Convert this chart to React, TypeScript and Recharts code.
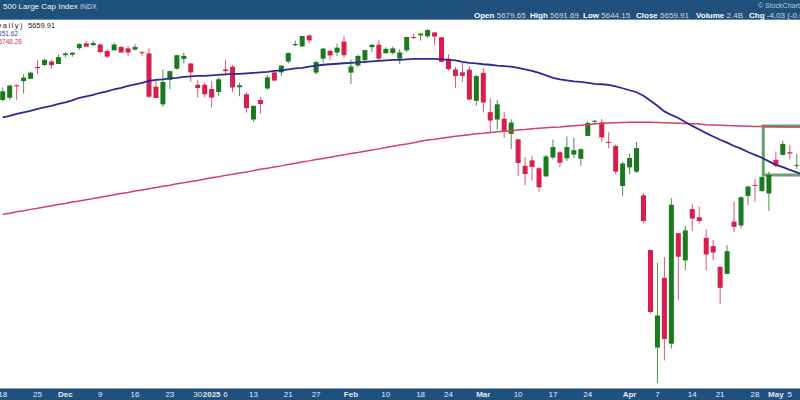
import React from 'react';
import { ComposedChart, Bar, Line, XAxis, YAxis, ReferenceArea } from 'recharts';

// Daily candles, 18 Nov 2024 -> 7 May 2025 (trading days)
const opens = [
  5859, 5868, 5918, 5935, 5944, 5992, 6000, 6014, 6004, 6040,
  6042, 6069, 6089, 6081, 6084, 6057, 6060, 6074, 6068, 6063,
  6052, 6047, 5912, 5842, 5940, 5985, 6025, 6006, 5920, 5920,
  5903, 5891, 5982, 5993, 5910, 5882, 5782, 5859, 5905, 5970,
  5970, 6014, 6081, 6076, 6121, 5969, 6026, 6058, 6051, 6096,
  5969, 5998, 6020, 6073, 6083, 6048, 6049, 6026, 6060, 6115,
  6122, 6118, 6134, 6114, 6026, 5982, 5970, 5981, 5856, 5968,
  5811, 5782, 5785, 5726, 5705, 5603, 5624, 5594, 5563, 5635,
  5655, 5632, 5646, 5630, 5718, 5775, 5771, 5695, 5679, 5527,
  5597, 5581, 5492, 5292, 4953, 5193, 4966, 5353, 5255, 5441,
  5411, 5336, 5306, 5232, 5207, 5395, 5381, 5490, 5531, 5508,
  5499, 5626, 5645, 5655, 5605, 5614,
];
const highs = [
  5909, 5920, 5921, 5963, 5973, 6020, 6026, 6021, 6044, 6053,
  6052, 6089, 6099, 6099, 6088, 6065, 6092, 6079, 6078, 6085,
  6057, 6070, 5935, 5982, 5978, 6040, 6050, 6007, 5940, 5929,
  5935, 5950, 6021, 6000, 5928, 5890, 5837, 5871, 5960, 5976,
  6000, 6051, 6100, 6119, 6128, 6018, 6070, 6062, 6087, 6121,
  6023, 6042, 6062, 6084, 6101, 6073, 6076, 6065, 6116, 6128,
  6129, 6147, 6134, 6115, 6044, 5992, 6009, 5994, 5959, 5987,
  5866, 5860, 5812, 5783, 5705, 5636, 5642, 5598, 5645, 5704,
  5659, 5716, 5711, 5670, 5775, 5781, 5784, 5732, 5685, 5620,
  5651, 5695, 5500, 5292, 5246, 5267, 5481, 5353, 5381, 5460,
  5450, 5367, 5328, 5232, 5309, 5469, 5489, 5528, 5553, 5563,
  5582, 5658, 5700, 5684, 5649, 5654,
];
const lows = [
  5853, 5858, 5860, 5885, 5944, 5963, 5995, 5984, 6004, 6031,
  6034, 6062, 6075, 6079, 6048, 6028, 6060, 6051, 6036, 6059,
  6035, 5867, 5866, 5832, 5903, 5981, 6007, 5932, 5869, 5869,
  5829, 5876, 5960, 5891, 5874, 5809, 5773, 5805, 5900, 5933,
  5955, 6007, 6076, 6075, 6088, 5962, 6010, 6019, 6036, 6030,
  5923, 5991, 6007, 6053, 6020, 6048, 6043, 6004, 6051, 6107,
  6100, 6111, 6080, 6009, 5977, 5908, 5932, 5858, 5837, 5810,
  5732, 5742, 5711, 5667, 5565, 5529, 5547, 5505, 5563, 5628,
  5598, 5622, 5633, 5603, 5718, 5763, 5695, 5670, 5572, 5489,
  5571, 5576, 5390, 5069, 4835, 4910, 4950, 5116, 5220, 5360,
  5387, 5220, 5255, 5101, 5207, 5356, 5371, 5456, 5468, 5505,
  5434, 5597, 5643, 5628, 5591, 5578,
];
const closes = [
  5894, 5917, 5917, 5949, 5969, 5987, 6021, 5999, 6032, 6047,
  6050, 6086, 6075, 6090, 6053, 6034, 6084, 6051, 6051, 6074,
  6050, 5872, 5867, 5931, 5975, 6040, 6037, 5970, 5907, 5882,
  5869, 5942, 5975, 5909, 5918, 5827, 5836, 5843, 5950, 5937,
  5997, 6049, 6086, 6119, 6101, 6012, 6067, 6039, 6071, 6040,
  5994, 6037, 6061, 6083, 6026, 6066, 6068, 6051, 6115, 6114,
  6129, 6144, 6117, 6013, 5983, 5955, 5956, 5861, 5955, 5849,
  5778, 5842, 5738, 5770, 5614, 5572, 5599, 5522, 5639, 5675,
  5615, 5675, 5663, 5667, 5768, 5777, 5712, 5693, 5581, 5612,
  5633, 5671, 5397, 5074, 5062, 4982, 5457, 5268, 5363, 5406,
  5397, 5276, 5283, 5158, 5288, 5376, 5485, 5525, 5529, 5561,
  5569, 5604, 5687, 5650, 5607, 5631,
];
const sma50 = [
  5790, 5796, 5804, 5810, 5816, 5824, 5830, 5836, 5844, 5850,
  5858, 5868, 5874, 5880, 5888, 5894, 5902, 5908, 5916, 5922,
  5928, 5936, 5940, 5942, 5946, 5948, 5952, 5954, 5956, 5956,
  5958, 5960, 5962, 5964, 5964, 5966, 5968, 5970, 5972, 5976,
  5978, 5982, 5986, 5988, 5993, 5997, 6001, 6003, 6005, 6007,
  6009, 6011, 6013, 6015, 6017, 6019, 6021, 6021, 6023, 6025,
  6025, 6025, 6025, 6023, 6021, 6019, 6013, 6009, 6007, 6003,
  6001, 5997, 5995, 5993, 5988, 5982, 5976, 5968, 5958, 5948,
  5942, 5938, 5934, 5932, 5928, 5924, 5922, 5920, 5914, 5906,
  5898, 5890, 5876, 5856, 5836, 5814, 5800, 5788, 5772, 5757,
  5743, 5729, 5716, 5703, 5692, 5679, 5669, 5656, 5645, 5634,
  5620, 5607, 5598, 5588, 5578, 5570,
];
const sma200 = [
  5422, 5426, 5431, 5435, 5440, 5444, 5449, 5453, 5458, 5462,
  5467, 5471, 5476, 5480, 5485, 5490, 5494, 5499, 5503, 5508,
  5512, 5517, 5521, 5526, 5530, 5535, 5539, 5544, 5548, 5553,
  5558, 5562, 5567, 5571, 5576, 5580, 5585, 5590, 5594, 5599,
  5603, 5608, 5613, 5618, 5622, 5627, 5631, 5636, 5641, 5645,
  5650, 5654, 5659, 5664, 5668, 5673, 5678, 5683, 5687, 5692,
  5697, 5702, 5705, 5709, 5713, 5717, 5720, 5723, 5726, 5728,
  5731, 5734, 5736, 5738, 5741, 5743, 5746, 5748, 5750, 5752,
  5753, 5756, 5758, 5760, 5762, 5765, 5766, 5768, 5769, 5770,
  5771, 5771, 5771, 5771, 5770, 5769, 5768, 5767, 5766, 5765,
  5764, 5762, 5761, 5760, 5759, 5758, 5757, 5756, 5755, 5755,
  5754, 5754, 5753, 5753, 5753, 5752,
];

// x-axis labels: trading-day index -> label
const tickIdx = [0, 5, 9, 14, 19, 24, 28, 30, 32, 36, 41, 45, 50, 55, 60, 64, 69, 74, 79, 84, 90, 94, 99, 103, 108, 111, 113];
const tickLabels = ['18', '25', 'Dec', '9', '16', '23', '30', '2025', '6', '13', '21', '27', 'Feb', '10', '18', '24', 'Mar', '10', '17', '24', 'Apr', '7', '14', '21', '28', 'May', '5'];
const boldLabels = ['Dec', '2025', 'Feb', 'Mar', 'Apr', 'May'];

// highlighted zone (green box)
const boxStart = 109.2;
const boxEnd = 118;
const boxLow = 5568;
const boxHigh = 5757;

const headerItems = [
  { label: 'Open', value: '5679.65', left: 474 },
  { label: 'High', value: '5691.69', left: 530 },
  { label: 'Low', value: '5644.15', left: 583 },
  { label: 'Close', value: '5659.91', left: 636 },
  { label: 'Volume', value: '2.4B', left: 696 },
  { label: 'Chg', value: '-4.03 (-0.07%)', left: 749 },
];

const GREEN = '#1b7a1f';
const GREEN_WICK = '#4f8f52';
const RED = '#d81e4b';
const RED_WICK = '#de5674';
const BAR_BG = '#20507c';
const FONT = 'Arial, "Liberation Sans", sans-serif';

const data = opens.map((o, i) => ({
  i,
  open: o,
  high: highs[i],
  low: lows[i],
  close: closes[i],
  range: [lows[i], highs[i]],
  sma50: sma50[i],
  sma200: sma200[i],
}));

const Candle = (props: any) => {
  const { x, y, width, height, payload } = props;
  if (!payload || height == null || isNaN(y)) return null;
  const { open, close, high, low } = payload;
  const lh = Math.log(high);
  const ll = Math.log(low);
  const toY = (v: number) => y + (height * (lh - Math.log(v))) / (lh - ll || 1);
  const up = close >= open;
  const cx = x + width / 2;
  const yo = toY(open);
  const yc = toY(close);
  const top = Math.min(yo, yc);
  const h = Math.max(Math.abs(yo - yc), 1);
  return (
    <g>
      <line x1={cx} x2={cx} y1={y} y2={y + height} stroke={up ? GREEN_WICK : RED_WICK} strokeWidth={1} />
      <rect x={cx - 2.5} y={top} width={5} height={h} fill={up ? GREEN : RED} />
    </g>
  );
};

const Tick = (props: any) => {
  const { x, y, payload } = props;
  const k = tickIdx.indexOf(payload.value);
  const label = k >= 0 ? tickLabels[k] : '';
  const bold = boldLabels.includes(label);
  return (
    <text x={x} y={y} dy={9} textAnchor="middle" fill="#e2eaf2" fontSize={8} fontFamily={FONT} fontWeight={bold ? 'bold' : 'normal'}>
      {label}
    </text>
  );
};

export default function App() {
  return (
    <div style={{ position: 'absolute', left: 0, top: 0, width: 800, height: 400, overflow: 'hidden', background: '#ffffff', fontFamily: FONT }}>
      <div style={{ position: 'absolute', left: 0, top: 0, width: 800, height: 19, background: BAR_BG, borderBottom: '1px solid #6d8aa6' }} />
      <div style={{ position: 'absolute', left: 0, top: 388, width: 800, height: 12, background: BAR_BG, borderTop: '1px solid #8da3b8', boxSizing: 'border-box' }} />
      <div style={{ position: 'absolute', left: 0, top: 0 }}>
        <ComposedChart width={800} height={400} data={data} margin={{ top: 20, right: 0, bottom: 0, left: 0 }}>
          <XAxis
            dataKey="i"
            type="number"
            domain={[-0.388, 114.47]}
            allowDataOverflow
            ticks={tickIdx}
            interval={0}
            tick={(p: any) => <Tick {...p} />}
            tickLine={false}
            axisLine={false}
            tickSize={0}
            tickMargin={0}
            height={12}
          />
          <YAxis hide type="number" scale="log" domain={[4819, 6186]} allowDataOverflow />
          <ReferenceArea
            x1={boxStart}
            x2={boxEnd}
            y1={boxLow}
            y2={boxHigh}
            fill="none"
            stroke="#6c9f6c"
            strokeWidth={3}
            ifOverflow="visible"
          />
          <Line type="linear" dataKey="sma200" stroke="#d3425f" strokeWidth={1.5} dot={false} isAnimationActive={false} />
          <Line type="linear" dataKey="sma50" stroke="#2a2a95" strokeWidth={1.8} dot={false} isAnimationActive={false} />
          <Bar dataKey="range" barSize={5} shape={(p: any) => <Candle {...p} />} isAnimationActive={false} />
        </ComposedChart>
      </div>
      {/* header */}
      <div style={{ position: 'absolute', left: 3, top: 2, color: '#eef3f8', fontSize: 8, lineHeight: '10px', whiteSpace: 'nowrap' }}>
        500 Large Cap Index <span style={{ fontSize: 7, color: '#c9d6e3' }}>INDX</span>
      </div>
      <div style={{ position: 'absolute', left: 758, top: 2, color: '#b7c7d7', fontSize: 7, lineHeight: '8px', whiteSpace: 'nowrap' }}>
        © StockCharts.com
      </div>
      {headerItems.map((h) => (
        <div key={h.label} style={{ position: 'absolute', left: h.left, top: 11, fontSize: 8, lineHeight: '10px', whiteSpace: 'nowrap' }}>
          <span style={{ fontWeight: 'bold', color: '#ffffff' }}>{h.label}</span>
          <span style={{ color: '#cfd9e3' }}> {h.value}</span>
        </div>
      ))}
      {/* legend */}
      <div style={{ position: 'absolute', right: 776, top: 22, fontSize: 7.5, lineHeight: '8px', letterSpacing: 1.5, color: '#222', whiteSpace: 'nowrap' }}>
        $SPX (Daily)
      </div>
      <div style={{ position: 'absolute', left: 28, top: 22, fontSize: 7.5, lineHeight: '8px', color: '#222', whiteSpace: 'nowrap' }}>
        5659.91
      </div>
      <div style={{ position: 'absolute', right: 782, top: 30, fontSize: 6.5, lineHeight: '7px', color: '#3b3ba8', whiteSpace: 'nowrap' }}>
        — MA(50) 5551.62
      </div>
      <div style={{ position: 'absolute', right: 778, top: 38, fontSize: 6.5, lineHeight: '7px', color: '#d43a5a', whiteSpace: 'nowrap' }}>
        — MA(200) 5748.28
      </div>
    </div>
  );
}
